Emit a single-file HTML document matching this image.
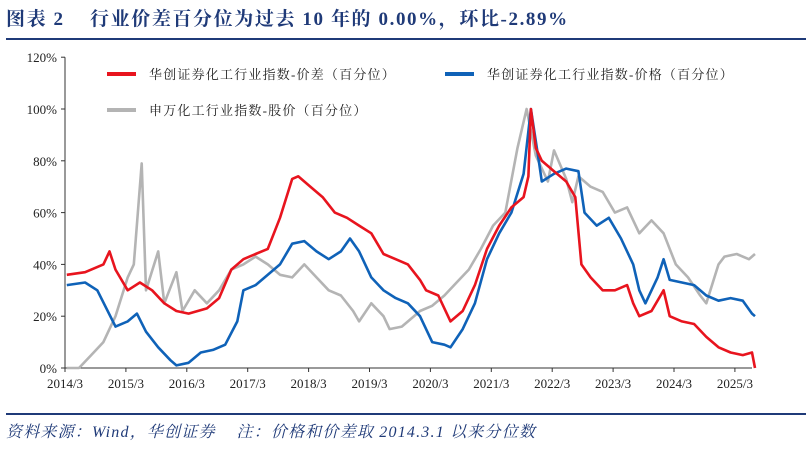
<!DOCTYPE html>
<html><head><meta charset="utf-8"><style>
body{margin:0;width:811px;height:446px;background:#fff;overflow:hidden;font-family:"Liberation Serif","Noto Serif CJK SC",serif}
</style></head><body>
<svg id="c" width="811" height="446" xmlns="http://www.w3.org/2000/svg">
<text x="6" y="25" font-size="19" font-weight="bold" fill="#1f3a78" letter-spacing="1.6" font-family="Liberation Serif, Noto Serif CJK SC, serif">图表 2&#160;&#160;&#160;&#160;行业价差百分位为过去 10 年的 0.00%，环比-2.89%</text>
<line x1="6" y1="39" x2="806" y2="39" stroke="#1f3a78" stroke-width="2"/>
<line x1="6" y1="414" x2="806" y2="414" stroke="#1f3a78" stroke-width="2"/>
<text x="6" y="437" font-size="16" font-style="italic" fill="#1f3a78" letter-spacing="1.2" font-family="Liberation Serif, Noto Serif CJK SC, serif">资料来源：Wind，华创证券&#160;&#160;&#160;&#160;注：价格和价差取 2014.3.1 以来分位数</text>
<g id="axes"></g><g id="series"></g>
<g font-size="13" letter-spacing="1.2" font-family="Liberation Serif, Noto Serif CJK SC, serif" fill="#222">
<line x1="107" y1="74" x2="136" y2="74" stroke="#e8141e" stroke-width="4"/>
<text x="149" y="79">华创证券化工行业指数-价差（百分位）</text>
<line x1="445" y1="74" x2="474" y2="74" stroke="#0f62b8" stroke-width="4"/>
<text x="487" y="79">华创证券化工行业指数-价格（百分位）</text>
<line x1="107" y1="110" x2="136" y2="110" stroke="#b4b4b4" stroke-width="4"/>
<text x="149" y="115">申万化工行业指数-股价（百分位）</text>
</g>
</svg>
<script>
const xTicks=["2014/3","2015/3","2016/3","2017/3","2018/3","2019/3","2020/3","2021/3","2022/3","2023/3","2024/3","2025/3"];
const yTicks=[0,20,40,60,80,100,120];
const redT=[2014.2,2014.5,2014.8,2014.9,2015.0,2015.2,2015.4,2015.6,2015.8,2016.0,2016.2,2016.5,2016.7,2016.9,2017.1,2017.3,2017.5,2017.7,2017.9,2018.0,2018.2,2018.4,2018.6,2018.8,2019.0,2019.2,2019.4,2019.6,2019.8,2020.0,2020.1,2020.3,2020.5,2020.7,2020.9,2021.1,2021.3,2021.5,2021.7,2021.78,2021.82,2021.9,2022.0,2022.2,2022.4,2022.55,2022.65,2022.8,2023.0,2023.2,2023.4,2023.5,2023.6,2023.8,2024.0,2024.1,2024.3,2024.5,2024.7,2024.9,2025.1,2025.3,2025.45,2025.5];
const redV=[36,37,40,45,38,30,33,30,25,22,21,23,27,38,42,44,46,58,73,74,70,66,60,58,55,52,44,42,40,34,30,28,18,22,32,46,55,62,66,74,100,85,80,76,72,66,40,35,30,30,32,25,20,22,30,20,18,17,12,8,6,5,6,0];
const blueT=[2014.2,2014.5,2014.7,2015.0,2015.2,2015.35,2015.5,2015.7,2015.9,2016.0,2016.2,2016.4,2016.6,2016.8,2017.0,2017.1,2017.3,2017.5,2017.7,2017.9,2018.1,2018.3,2018.5,2018.7,2018.85,2019.0,2019.2,2019.4,2019.6,2019.8,2020.0,2020.2,2020.4,2020.5,2020.7,2020.9,2021.1,2021.3,2021.5,2021.7,2021.82,2021.95,2022.0,2022.2,2022.4,2022.6,2022.7,2022.9,2023.1,2023.3,2023.5,2023.6,2023.7,2023.9,2024.0,2024.1,2024.3,2024.5,2024.7,2024.9,2025.1,2025.3,2025.45,2025.5];
const blueV=[32,33,30,16,18,21,14,8,3,1,2,6,7,9,18,30,32,36,40,48,49,45,42,45,50,45,35,30,27,25,20,10,9,8,15,25,42,52,60,75,100,80,72,75,77,76,60,55,58,50,40,30,25,35,42,34,33,32,28,26,27,26,21,20];
const grayT=[2014.2,2014.4,2014.6,2014.8,2015.0,2015.2,2015.3,2015.43,2015.5,2015.7,2015.8,2016.0,2016.1,2016.3,2016.5,2016.7,2016.9,2017.1,2017.3,2017.5,2017.7,2017.9,2018.1,2018.3,2018.5,2018.7,2018.9,2019.0,2019.2,2019.4,2019.5,2019.7,2019.9,2020.0,2020.2,2020.4,2020.6,2020.8,2021.0,2021.2,2021.4,2021.6,2021.75,2021.9,2022.1,2022.2,2022.4,2022.5,2022.6,2022.8,2023.0,2023.2,2023.4,2023.6,2023.8,2024.0,2024.2,2024.4,2024.6,2024.7,2024.9,2025.0,2025.2,2025.4,2025.5];
const grayV=[0,0,5,10,20,35,40,79,30,45,25,37,22,30,25,30,38,40,43,40,36,35,40,35,30,28,22,18,25,20,15,16,20,22,24,28,33,38,46,55,60,85,100,82,72,84,73,64,74,70,68,60,62,52,57,52,40,35,28,25,40,43,44,42,44];
const NS="http://www.w3.org/2000/svg";
const X0=65,XS=60.9,T0=2014.17,Y0=368,YS=2.59;
const sx=t=>X0+(t-T0)*XS, sy=v=>Y0-v*YS;
const ax=document.getElementById('axes'), sr=document.getElementById('series');
function mk(tag,attrs,parent){const e=document.createElementNS(NS,tag);for(const k in attrs)e.setAttribute(k,attrs[k]);parent.appendChild(e);return e;}
const yAxis=mk('line',{x1:X0,y1:Y0,x2:X0,y2:sy(120),stroke:'#333','stroke-width':1},ax);


const xAxis=mk('line',{x1:X0,y1:Y0,x2:752,y2:Y0,stroke:'#333','stroke-width':1},ax);


yTicks.forEach(v=>{
  mk('line',{x1:X0-4,y1:sy(v),x2:X0,y2:sy(v),stroke:'#333'},ax);
  const t=mk('text',{x:X0-8,y:sy(v)+5,'text-anchor':'end','font-size':13,fill:'#222'},ax);
  t.textContent=v+'%';
  
  
});
xTicks.forEach((l,i)=>{
  const x=X0+i*XS;
  mk('line',{x1:x,y1:Y0,x2:x,y2:Y0+4,stroke:'#333'},ax);
  const t=mk('text',{x:x,y:Y0+20,'text-anchor':'middle','font-size':13,fill:'#222'},ax);
  t.textContent=l;
  
  
});
function line(T,V,col,name){
  const p=mk('polyline',{points:T.map((t,i)=>sx(t).toFixed(1)+','+sy(V[i]).toFixed(1)).join(' '),fill:'none',stroke:col,'stroke-width':2.6,'stroke-linejoin':'round'},sr);
  
  
}
line(grayT,grayV,'#b4b4b4','stock-percentile-line');
line(blueT,blueV,'#0f62b8','price-percentile-line');
line(redT,redV,'#e8141e','spread-percentile-line');
</script>
</body></html>
